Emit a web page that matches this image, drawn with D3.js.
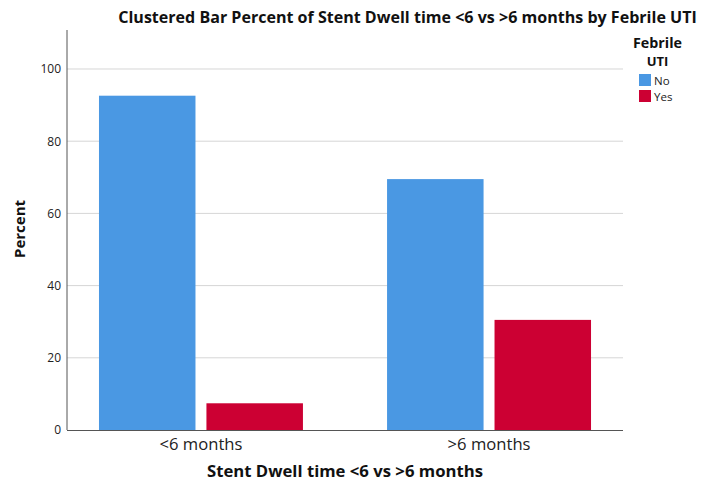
<!DOCTYPE html>
<html>
<head>
<meta charset="utf-8">
<script src="https://cdn.jsdelivr.net/npm/d3@7"></script>
<style>
  html, body { margin: 0; padding: 0; background: #fff; }
  svg { display: block; font-family: "Open Sans", Lato, sans-serif; }
</style>
</head>
<body>
<svg id="chart" width="711" height="483"></svg>
<script>
// Stent dwell time groups and febrile UTI outcome (percent within group)
const categories = ["<6 months", ">6 months"];
const groups = ["No", "Yes"];
const valuesNo = [92.6, 69.5];
const valuesYes = [7.4, 30.5];
const yTicks = [0, 20, 40, 60, 80, 100];
const colors = { No: "#4a98e3", Yes: "#cc0033" };

const rows = categories.map((c, i) => ({ category: c, No: valuesNo[i], Yes: valuesYes[i] }));

const svg = d3.select("#chart");
const plot = { left: 67, right: 623, top: 30, bottom: 430 };

// scale a text's font size so that it spans the given width
function fitWidth(sel, width) {
  sel.each(function () {
    const node = d3.select(this);
    const size = parseFloat(node.attr("font-size"));
    const w = this.getComputedTextLength();
    if (w > 0) node.attr("font-size", (size * width / w).toFixed(2));
  });
  return sel;
}

const y = d3.scaleLinear().domain([0, 110.8]).range([plot.bottom, plot.top]);
const x0 = d3.scaleBand().domain(categories).range([plot.left, plot.right])
  .paddingInner(0.292).paddingOuter(0.111);
const x1 = d3.scaleBand().domain(groups).range([0, x0.bandwidth()]).paddingInner(0.102);
const color = d3.scaleOrdinal().domain(groups).range([colors.No, colors.Yes]);

// horizontal gridlines
svg.append("g")
  .selectAll("line")
  .data(yTicks.filter(t => t > 0))
  .join("line")
  .attr("x1", plot.left).attr("x2", plot.right)
  .attr("y1", d => y(d)).attr("y2", d => y(d))
  .attr("stroke", "#d6d6d6").attr("stroke-width", 1);

// bars
svg.append("g")
  .selectAll("g")
  .data(rows)
  .join("g")
  .attr("transform", d => `translate(${x0(d.category)},0)`)
  .selectAll("rect")
  .data(d => groups.map(g => ({ key: g, value: d[g] })))
  .join("rect")
  .attr("x", d => x1(d.key))
  .attr("y", d => y(d.value))
  .attr("width", x1.bandwidth())
  .attr("height", d => y(0) - y(d.value))
  .attr("fill", d => color(d.key));

// y axis
const yAxis = svg.append("g")
  .attr("transform", `translate(${plot.left},0)`)
  .call(d3.axisLeft(y).tickValues(yTicks).tickSize(0).tickPadding(6));
yAxis.select(".domain").attr("stroke", "#555").attr("d", `M0,${plot.top}V${plot.bottom}`);
yAxis.selectAll("text").attr("font-size", 12).attr("fill", "#222")
  .attr("font-family", "\"Open Sans\", sans-serif");

// x axis
const xAxis = svg.append("g")
  .attr("transform", `translate(0,${plot.bottom})`)
  .call(d3.axisBottom(x0).tickSize(0).tickPadding(8));
xAxis.select(".domain").attr("stroke", "#555").attr("d", `M${plot.left},0.5H${plot.right}`);
xAxis.selectAll("text").attr("font-size", 15).attr("fill", "#222")
  .attr("font-family", "\"Open Sans\", sans-serif");
fitWidth(xAxis.selectAll("text"), 83);

// title
fitWidth(svg.append("text")
  .attr("x", 407.5).attr("y", 23)
  .attr("text-anchor", "middle")
  .attr("font-size", 15).attr("font-weight", "bold").attr("fill", "#111")
  .text("Clustered Bar Percent of Stent Dwell time <6 vs >6 months by Febrile UTI"), 579);

// axis titles
fitWidth(svg.append("text")
  .attr("x", 345).attr("y", 477)
  .attr("text-anchor", "middle")
  .attr("font-size", 15).attr("font-weight", "bold").attr("fill", "#111")
  .text("Stent Dwell time <6 vs >6 months"), 276);

fitWidth(svg.append("text")
  .attr("transform", `translate(25,229) rotate(-90)`)
  .attr("text-anchor", "middle")
  .attr("font-size", 15).attr("font-weight", "bold").attr("fill", "#111")
  .text("Percent"), 58);

// legend
const legend = svg.append("g");
fitWidth(legend.append("text").attr("x", 657.5).attr("y", 48)
  .attr("text-anchor", "middle").attr("font-size", 13).attr("font-weight", "bold").attr("fill", "#111")
  .text("Febrile"), 49);
legend.append("text").attr("x", 657.5).attr("y", 66)
  .attr("text-anchor", "middle").attr("font-size", 13).attr("font-weight", "bold").attr("fill", "#111")
  .text("UTI");
const items = legend.selectAll("g.item")
  .data(groups)
  .join("g").attr("class", "item")
  .attr("transform", (d, i) => `translate(639,${74 + i * 16})`);
items.append("rect").attr("width", 12).attr("height", 12).attr("fill", d => color(d));
items.append("text").attr("x", 15).attr("y", 10.5)
  .attr("font-size", 11.5).attr("fill", "#222").text(d => d);
</script>
</body>
</html>
